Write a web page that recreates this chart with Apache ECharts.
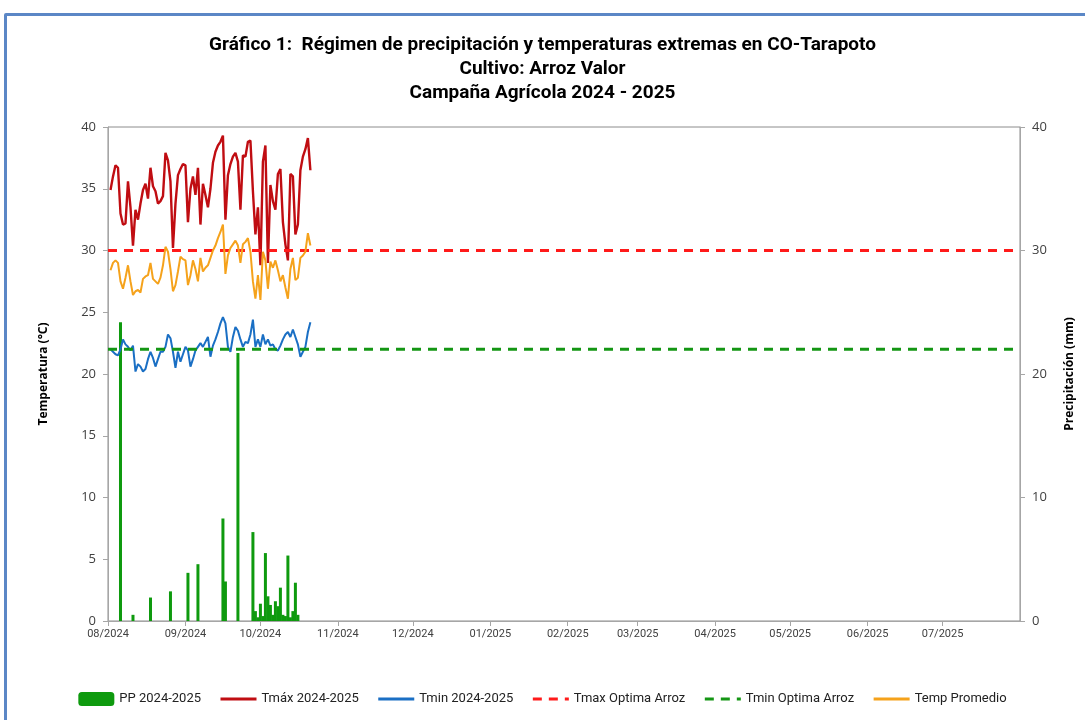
<!DOCTYPE html>
<html>
<head>
<meta charset="utf-8">
<script src="https://cdn.jsdelivr.net/npm/echarts@6/dist/echarts.min.js"></script>
<style>
  html, body { margin: 0; padding: 0; background: #fff; overflow: hidden; }
  #wrap { position: relative; width: 1085px; height: 720px; }
  #marco { position: absolute; left: 4px; top: 13px; width: 1100px; height: 720px; border: 3px solid #5b87c6; border-radius: 2px; box-sizing: border-box; }
  #main { position: absolute; left: 0; top: 0; width: 1085px; height: 720px; }
</style>
</head>
<body>
<div id="wrap">
  <div id="marco"></div>
  <div id="main"></div>
</div>
<script>
// datos diarios desde el 02/08/2024
const inicioDatos = "2024-08-02";

const tmax = [34.9, 36.0, 36.9, 36.7, 33.0, 32.1, 32.2, 35.6, 33.5, 30.4,
  33.3, 32.5, 33.8, 34.9, 35.4, 34.2, 36.7, 35.2, 34.8, 33.8,
  34.0, 34.4, 37.9, 37.3, 35.6, 30.2, 33.8, 36.1, 36.6, 37.0,
  36.9, 32.3, 35.0, 36.0, 34.5, 36.7, 32.1, 35.4, 34.5, 33.5,
  35.0, 37.1, 38.0, 38.5, 38.8, 39.3, 32.5, 36.1, 37.0, 37.6,
  37.9, 37.2, 33.3, 37.7, 37.6, 38.8, 38.9, 34.8, 31.3, 33.5,
  28.8, 37.2, 38.5, 29.0, 35.3, 34.0, 33.3, 36.2, 36.6, 32.3,
  30.5, 29.2, 36.2, 36.0, 31.3, 32.1, 36.5, 37.6, 38.2, 39.1,
  36.5];

const tmin = [22.0, 21.8, 21.6, 21.5, 22.0, 22.8, 22.4, 22.2, 21.9, 22.3,
  20.2, 20.8, 20.6, 20.2, 20.4, 21.2, 21.8, 21.3, 20.6, 21.2,
  21.8, 21.8, 22.2, 23.2, 22.9, 21.8, 20.5, 21.8, 21.0, 21.6,
  22.2, 21.9, 20.6, 21.2, 21.9, 22.2, 22.5, 22.2, 22.6, 23.0,
  21.4, 22.3, 22.8, 23.4, 24.1, 24.6, 24.1, 22.2, 21.8, 23.0,
  23.8, 23.5, 22.8, 22.2, 22.6, 22.5, 23.2, 24.4, 22.2, 22.8,
  22.2, 23.2, 22.4, 22.8, 22.3, 22.4, 22.0, 21.9, 22.3, 22.8,
  23.2, 23.4, 23.0, 23.6, 23.0, 22.4, 21.4, 21.8, 22.2, 23.4,
  24.2];

const tprom = [28.4, 29.0, 29.2, 29.0, 27.5, 26.9, 27.8, 28.8, 27.5, 26.4,
  26.7, 26.8, 26.6, 27.7, 27.9, 28.0, 29.0, 27.7, 27.5, 27.3,
  27.8, 28.8, 30.3, 29.9, 28.5, 26.7, 27.2, 28.3, 29.5, 29.3,
  29.2, 27.2, 28.0, 29.2, 28.5, 27.5, 29.4, 28.3, 28.6, 28.8,
  29.4, 30.0, 30.4, 31.0, 31.5, 32.1, 28.1, 29.6, 30.2, 30.5,
  30.8, 30.4, 29.0, 30.5, 30.7, 31.0, 29.9, 27.5, 26.1, 28.0,
  26.0, 29.9, 29.2, 26.9, 29.1, 28.6, 29.2, 28.4, 27.5, 28.0,
  27.0, 26.1, 28.5, 29.4, 27.6, 27.8, 29.4, 29.6, 29.9, 31.4,
  30.4];

const pp = [0, 0, 0, 0, 24.2, 0, 0, 0, 0, 0.5,
  0, 0, 0, 0, 0, 0, 1.9, 0, 0, 0,
  0, 0, 0, 0, 2.4, 0, 0, 0, 0, 0,
  0, 3.9, 0, 0, 0, 4.6, 0, 0, 0, 0,
  0, 0, 0, 0, 0, 8.3, 3.2, 0, 0, 0,
  0, 21.7, 0, 0, 0, 0, 0, 7.2, 0.8, 0.3,
  1.4, 0.4, 5.5, 2.0, 1.3, 0.5, 1.6, 1.2, 2.7, 0.5,
  0.4, 5.3, 0.3, 0.8, 3.1, 0.5, 0, 0, 0, 0,
  0];

const tmaxOptima = 30;
const tminOptima = 22;

// eje x: un día por categoría, de 08/2024 a 08/2025
const fechas = [];
for (let t = Date.UTC(2024, 7, 1); t <= Date.UTC(2025, 7, 1); t += 86400000) {
  fechas.push(new Date(t).toISOString().slice(0, 10));
}
const off = fechas.indexOf(inicioDatos);
const serie = (arr) => arr.map((v, i) => [fechas[off + i], v]);
const recta = (v) => [[fechas[0], v], [fechas[fechas.length - 1], v]];
const esMes = (i, v) => v.slice(8) === "01" && i < fechas.length - 1;

const fuente = "Roboto, 'Open Sans', sans-serif";
const fuenteEje = "'Open Sans', 'Noto Sans', sans-serif";
const sinSimbolo = { itemStyle: { opacity: 0 }, lineStyle: { width: 3 } };

const chart = echarts.init(document.getElementById("main"), null, { renderer: "canvas" });

const option = {
  animation: false,
  backgroundColor: "transparent",
  title: {
    text: "Gráfico 1:  Régimen de precipitación y temperaturas extremas en CO-Tarapoto\nCultivo: Arroz Valor\nCampaña Agrícola 2024 - 2025",
    left: "center",
    top: 28,
    textStyle: { fontFamily: fuente, fontSize: 19, fontWeight: "bold", color: "#000", lineHeight: 24 }
  },
  legend: {
    bottom: 9,
    left: "center",
    itemGap: 18,
    itemWidth: 36,
    itemHeight: 14,
    textStyle: { fontFamily: fuente, fontSize: 13, color: "#222" },
    data: [
      { name: "PP 2024-2025" },
      Object.assign({ name: "Tmáx 2024-2025" }, sinSimbolo),
      Object.assign({ name: "Tmin 2024-2025" }, sinSimbolo),
      Object.assign({ name: "Tmax Optima Arroz" }, sinSimbolo),
      Object.assign({ name: "Tmin Optima Arroz" }, sinSimbolo),
      Object.assign({ name: "Temp Promedio" }, sinSimbolo)
    ]
  },
  grid: {
    left: 108, right: 65, top: 127, bottom: 99,
    show: true, borderColor: "#8c8c8c", borderWidth: 1
  },
  xAxis: {
    type: "category",
    data: fechas,
    boundaryGap: false,
    axisLine: { lineStyle: { color: "#a6a6a6" } },
    axisTick: { interval: esMes, length: 5, lineStyle: { color: "#a6a6a6" } },
    axisLabel: {
      interval: esMes,
      formatter: (v) => v.slice(5, 7) + "/" + v.slice(0, 4),
      fontFamily: fuente, fontSize: 11, color: "#404040", margin: 8
    },
    splitLine: { show: false }
  },
  yAxis: [
    {
      type: "value", min: 0, max: 40, interval: 5,
      name: "Temperatura (°C)", nameLocation: "middle", nameGap: 58, nameRotate: 90,
      nameTextStyle: { fontFamily: fuenteEje, fontSize: 12, fontWeight: "bold", color: "#000" },
      axisLine: { show: true, lineStyle: { color: "#a6a6a6" } },
      axisTick: { show: true, length: 5, lineStyle: { color: "#a6a6a6" } },
      axisLabel: { fontFamily: fuenteEje, fontSize: 13, color: "#404040", margin: 12 },
      splitLine: { show: false }
    },
    {
      type: "value", min: 0, max: 40, interval: 10, position: "right",
      name: "Precipitación (mm)", nameLocation: "middle", nameGap: 44, nameRotate: 90,
      nameTextStyle: { fontFamily: fuenteEje, fontSize: 12, fontWeight: "bold", color: "#000" },
      axisLine: { show: true, lineStyle: { color: "#a6a6a6" } },
      axisTick: { show: true, length: 5, lineStyle: { color: "#a6a6a6" } },
      axisLabel: { fontFamily: fuenteEje, fontSize: 13, color: "#404040", margin: 12 },
      splitLine: { show: false }
    }
  ],
  series: [
    {
      name: "PP 2024-2025", type: "bar", yAxisIndex: 1,
      data: serie(pp), barWidth: 3,
      itemStyle: { color: "#0e9a0e" }
    },
    {
      name: "Tmáx 2024-2025", type: "line", yAxisIndex: 0,
      data: serie(tmax), symbol: "none",
      lineStyle: { color: "#c00d12", width: 2.4 }, itemStyle: { color: "#c00d12" }
    },
    {
      name: "Tmin 2024-2025", type: "line", yAxisIndex: 0,
      data: serie(tmin), symbol: "none",
      lineStyle: { color: "#1a6fc4", width: 2 }, itemStyle: { color: "#1a6fc4" }
    },
    {
      name: "Tmax Optima Arroz", type: "line", yAxisIndex: 0,
      data: recta(tmaxOptima), symbol: "none",
      lineStyle: { color: "#ff1a1a", width: 3, type: [9, 7] }, itemStyle: { color: "#ff1a1a" }
    },
    {
      name: "Tmin Optima Arroz", type: "line", yAxisIndex: 0,
      data: recta(tminOptima), symbol: "none",
      lineStyle: { color: "#149614", width: 3, type: [9, 7] }, itemStyle: { color: "#149614" }
    },
    {
      name: "Temp Promedio", type: "line", yAxisIndex: 0,
      data: serie(tprom), symbol: "none",
      lineStyle: { color: "#f5a21b", width: 2 }, itemStyle: { color: "#f5a21b" }
    }
  ]
};

chart.setOption(option);
</script>
</body>
</html>
